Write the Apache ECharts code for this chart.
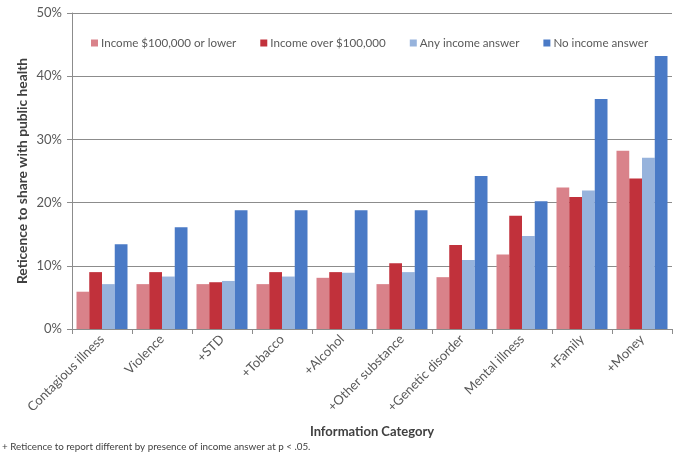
<!DOCTYPE html>
<html>
<head>
<meta charset="utf-8">
<script src="https://cdn.jsdelivr.net/npm/echarts@6/dist/echarts.min.js"></script>
<style>
  html, body { margin: 0; padding: 0; background: #fff; }
  #chart { width: 685px; height: 457px; }
</style>
</head>
<body>
<div id="chart"></div>
<script>
  // values, in %
  const categories = ['Contagious illness', 'Violence', '+STD', '+Tobacco', '+Alcohol',
    '+Other substance', '+Genetic disorder', 'Mental illness', '+Family', '+Money'];
  const seriesNames = ['Income $100,000 or lower', 'Income over $100,000', 'Any income answer', 'No income answer'];
  const incomeLow = [5.9, 7.1, 7.1, 7.1, 8.1, 7.1, 8.2, 11.8, 22.4, 28.2];
  const incomeHigh = [9.0, 9.0, 7.4, 9.0, 9.0, 10.4, 13.3, 17.9, 20.9, 23.8];
  const anyIncome = [7.1, 8.3, 7.6, 8.3, 8.9, 9.0, 10.9, 14.7, 21.9, 27.1];
  const noIncome = [13.4, 16.1, 18.8, 18.8, 18.8, 18.8, 24.2, 20.2, 36.4, 43.2];
  const yTicks = [0, 10, 20, 30, 40, 50];

  const colors = ['#D9828A', '#C1313B', '#97B3DC', '#4A7AC6'];
  const font = 'Lato, "Open Sans", sans-serif';
  const grey = '#595959';
  const lineGrey = '#8C8C8C';

  const chart = echarts.init(document.getElementById('chart'));
  const allData = [incomeLow, incomeHigh, anyIncome, noIncome];

  const option = {
    animation: false,
    color: colors,
    textStyle: { fontFamily: font },
    grid: { left: 72, right: 13, top: 13, bottom: 128 },
    legend: {
      top: 32,
      left: 86,
      right: 0,
      itemWidth: 7,
      itemHeight: 7,
      itemGap: 24,
      icon: 'rect',
      textStyle: { fontFamily: font, fontSize: 11.6, color: grey, padding: [0, 0, 0, -2] },
      data: seriesNames
    },
    xAxis: {
      type: 'category',
      data: categories,
      name: 'Information Category',
      nameLocation: 'middle',
      nameGap: 96,
      nameTextStyle: { fontFamily: font, fontSize: 13, fontWeight: 'bold', color: '#404040' },
      axisLine: { lineStyle: { color: lineGrey } },
      axisTick: { show: true, length: 5, lineStyle: { color: lineGrey } },
      axisLabel: { rotate: 45, fontSize: 13, color: grey, margin: 8, interval: 0 }
    },
    yAxis: {
      type: 'value',
      min: yTicks[0],
      max: yTicks[yTicks.length - 1],
      interval: 10,
      name: 'Reticence to share with public health',
      nameLocation: 'middle',
      nameGap: 42,
      nameMoveOverlap: false,
      nameTextStyle: { fontFamily: font, fontSize: 13.8, fontWeight: 'bold', color: '#404040' },
      axisLine: { show: true, lineStyle: { color: lineGrey } },
      axisTick: { show: true, length: 5, lineStyle: { color: lineGrey } },
      axisLabel: { formatter: '{value}%', fontSize: 13, color: grey, margin: 10 },
      splitLine: { lineStyle: { color: lineGrey, width: 1 } }
    },
    series: seriesNames.map((name, i) => ({
      name: name,
      type: 'bar',
      barGap: '0%',
      barCategoryGap: '15%',
      data: allData[i]
    })),
    graphic: [{
      type: 'text',
      left: 2,
      top: 442,
      style: {
        text: '+ Reticence to report different by presence of income answer at p < .05.',
        font: '9.8px ' + font,
        fill: '#404040'
      }
    }]
  };
  chart.setOption(option);
</script>
</body>
</html>
